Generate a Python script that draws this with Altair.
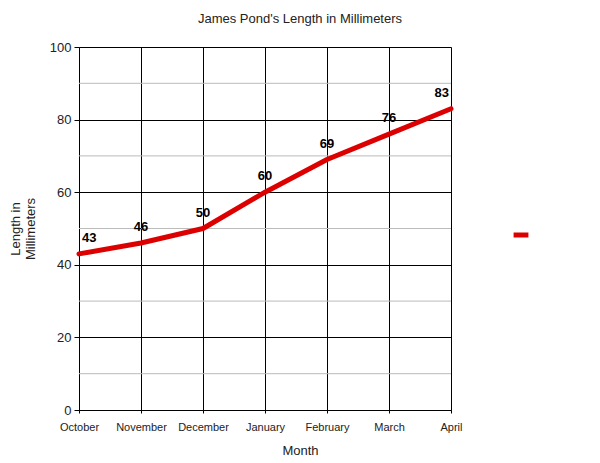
import altair as alt
import pandas as pd

months = ["October", "November", "December", "January", "February", "March", "April"]
lengths = [43, 46, 50, 60, 69, 76, 83]
series = ["Length"]
major_ticks = [0, 20, 40, 60, 80, 100]
minor_ticks = [10, 30, 50, 70, 90]

df = pd.DataFrame({"Month": months, "Length": lengths, "Series": series * len(months)})
minor_df = pd.DataFrame({"v": minor_ticks})

FONT = "Liberation Sans"

x = alt.X("Month:O", sort=months, scale=alt.Scale(type="point", padding=0),
          axis=alt.Axis(title="Month", labelAngle=0, labelFontSize=11, labelColor="#222",
                        titleFontSize=13, titleFontWeight="normal", titleColor="#222",
                        gridColor="black", gridOpacity=1, grid=True, domainColor="black",
                        tickColor="black", tickSize=3, labelPadding=8, titlePadding=12,
                        titleX=221, titleAlign="center",
                        labelFont=FONT, titleFont=FONT))
y = alt.Y("Length:Q", scale=alt.Scale(domain=[0, 100], nice=False),
          axis=alt.Axis(title=["Length in", "Millimeters"], values=major_ticks,
                        gridColor="black", gridOpacity=1, domainColor="black",
                        tickColor="black",
                        tickSize=5, labelFontSize=13, labelColor="#222", labelPadding=3,
                        titleFontSize=13, titleFontWeight="normal", titleColor="#222",
                        titlePadding=12, labelFont=FONT, titleFont=FONT))

minor = alt.Chart(minor_df).mark_rule(color="#bbbbbb", strokeWidth=1).encode(
    y=alt.Y("v:Q", scale=alt.Scale(domain=[0, 100], nice=False)))

base = alt.Chart(df)

line = base.mark_line(strokeWidth=5, strokeCap="round", strokeJoin="round").encode(
    x=x, y=y,
    color=alt.Color("Series:N", scale=alt.Scale(range=["#dd0000"]),
                    legend=alt.Legend(title=None, orient="none", legendX=432, legendY=178,
                                      symbolType="stroke", symbolStrokeWidth=5, symbolSize=220,
                                      labelExpr="''", labelFontSize=1))
)

text_mid = base.transform_filter(
    "datum.Month != 'October' && datum.Month != 'April'"
).mark_text(fontWeight="bold", fontSize=13, font=FONT, dy=-16, align="center", color="black").encode(
    x=alt.X("Month:O", sort=months), y="Length:Q", text="Length:Q")
text_first = base.transform_filter("datum.Month == 'October'").mark_text(
    fontWeight="bold", fontSize=13, font=FONT, dy=-16, dx=3, align="left", color="black").encode(
    x=alt.X("Month:O", sort=months), y="Length:Q", text="Length:Q")
text_last = base.transform_filter("datum.Month == 'April'").mark_text(
    fontWeight="bold", fontSize=13, font=FONT, dy=-16, dx=-2, align="right", color="black").encode(
    x=alt.X("Month:O", sort=months), y="Length:Q", text="Length:Q")

chart = alt.layer(minor, line, text_mid, text_first, text_last).properties(
    width=372, height=363,
    title=alt.TitleParams("James Pond's Length in Millimeters", fontSize=13, fontWeight="normal",
                          font=FONT, color="#222", anchor="middle", dx=35, offset=15),
    autosize=alt.AutoSizeParams(type="none"),
    padding={"left": 71, "top": 39, "right": 133, "bottom": 52},
).configure_view(stroke=None).configure(background="white")

chart.save("out.html", embed_options={"renderer": "svg", "actions": False})
